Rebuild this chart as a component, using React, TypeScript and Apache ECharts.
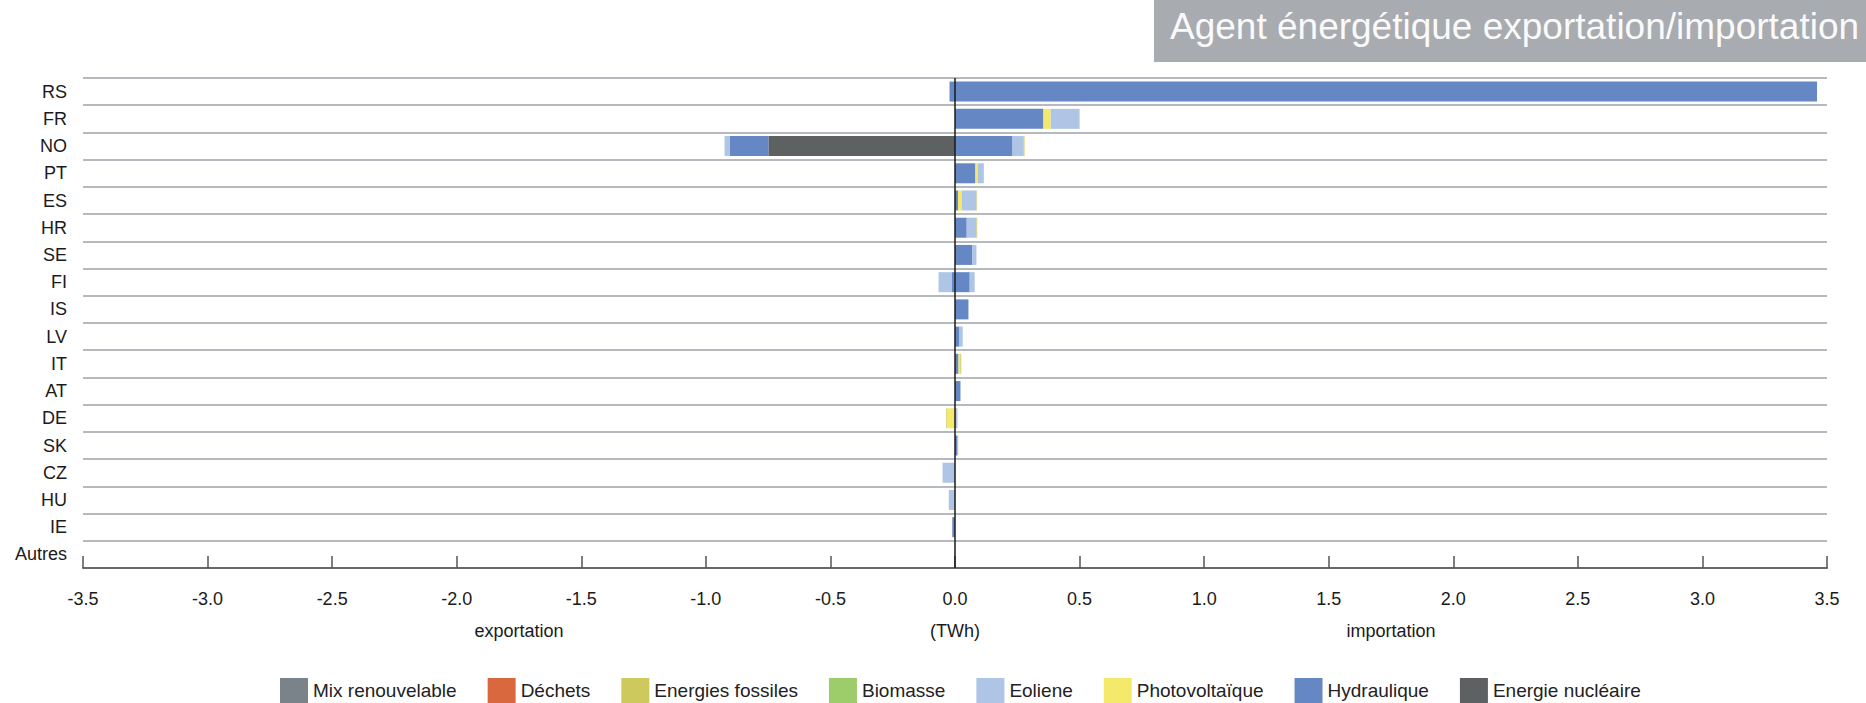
import React, { useEffect, useRef } from "react";
import * as echarts from "echarts";

const categories = ["RS", "FR", "NO", "PT", "ES", "HR", "SE", "FI", "IS", "LV", "IT", "AT", "DE", "SK", "CZ", "HU", "IE", "Autres"];

// Import (positive) values, TWh, per category order above
const impNucleaire = [0, 0, 0, 0, 0, 0, 0, 0, 0, 0, 0, 0, 0, 0, 0, 0, 0, 0];
const impHydro = [3.46, 0.355, 0.231, 0.082, 0.012, 0.047, 0.07, 0.059, 0.054, 0.018, 0.014, 0.022, 0, 0.01, 0, 0, 0, 0];
const impPV = [0, 0.029, 0, 0.009, 0.016, 0, 0, 0, 0, 0, 0.007, 0, 0, 0, 0, 0, 0, 0];
const impEolien = [0, 0.116, 0.045, 0.022, 0.058, 0.039, 0.016, 0.02, 0, 0.013, 0, 0, 0.01, 0, 0, 0, 0, 0];
const impBiomasse = [0, 0, 0, 0, 0, 0, 0, 0, 0, 0, 0, 0, 0, 0, 0, 0, 0, 0];
const impFossiles = [0, 0, 0.003, 0.003, 0.002, 0.003, 0, 0, 0, 0, 0.004, 0, 0, 0.003, 0, 0, 0, 0];
const impDechets = [0, 0, 0, 0, 0, 0, 0, 0, 0, 0, 0, 0, 0, 0, 0, 0, 0, 0];
const impMix = [0, 0, 0, 0, 0, 0, 0, 0, 0, 0, 0, 0, 0, 0, 0, 0, 0, 0];

// Export (negative) values, TWh
const expNucleaire = [0, 0, -0.749, 0, 0, 0, 0, 0, 0, 0, 0, 0, 0, 0, 0, 0, 0, 0];
const expHydro = [-0.022, 0, -0.156, 0, 0, 0, 0, -0.014, 0, 0, 0, 0, 0, 0, 0, 0, -0.011, 0];
const expPV = [0, 0, 0, 0, 0, 0, 0, 0, 0, 0, 0, 0, -0.032, 0, 0, 0, 0, 0];
const expEolien = [0, 0, -0.02, 0, 0, 0, 0, -0.052, 0, 0, 0, 0, 0, 0, -0.05, -0.025, 0, 0];
const expBiomasse = [0, 0, 0, 0, 0, 0, 0, 0, 0, 0, 0, 0, 0, 0, 0, 0, 0, 0];
const expFossiles = [0, 0, 0, 0, 0, 0, 0, 0, 0, 0, 0, 0, -0.003, 0, 0, 0, 0, 0];
const expDechets = [0, 0, 0, 0, 0, 0, 0, 0, 0, 0, 0, 0, 0, 0, 0, 0, 0, 0];
const expMix = [0, 0, 0, 0, 0, 0, 0, 0, 0, 0, 0, 0, 0, 0, 0, 0, 0, 0];

const legendOrder = ["Mix renouvelable", "Déchets", "Energies fossiles", "Biomasse", "Eoliene", "Photovoltaïque", "Hydraulique", "Energie nucléaire"];

// stacking order from zero outward
const types = [
  { name: "Energie nucléaire", color: "#5d6162", imp: impNucleaire, exp: expNucleaire },
  { name: "Hydraulique", color: "#6588c5", imp: impHydro, exp: expHydro },
  { name: "Photovoltaïque", color: "#f5e96b", imp: impPV, exp: expPV },
  { name: "Eoliene", color: "#aec5e6", imp: impEolien, exp: expEolien },
  { name: "Biomasse", color: "#9ccd6a", imp: impBiomasse, exp: expBiomasse },
  { name: "Energies fossiles", color: "#cec95c", imp: impFossiles, exp: expFossiles },
  { name: "Déchets", color: "#d9683f", imp: impDechets, exp: expDechets },
  { name: "Mix renouvelable", color: "#7b838a", imp: impMix, exp: expMix },
];

const axisNames: Record<string, string> = { "-1.75": "exportation", "0": "(TWh)", "1.75": "importation" };

const FONT = "'Liberation Sans', Arial, sans-serif";

export default function App() {
  const ref = useRef<HTMLDivElement>(null);
  useEffect(() => {
    if (!ref.current) return;
    const chart = echarts.init(ref.current, undefined, { renderer: "svg" });
    const series: any[] = [];
    types.forEach((t, i) => {
      series.push({
        name: t.name,
        type: "bar",
        stack: "imp",
        data: t.imp,
        itemStyle: { color: t.color },
        barWidth: 20,
        barGap: "-100%",
        xAxisIndex: 0,
        ...(i === 0
          ? {
              markLine: {
                silent: true,
                symbol: ["none", "none"],
                label: { show: false },
                z: 10,
                lineStyle: { color: "#1a1a1a", width: 1.5, type: "solid" },
                data: [{ xAxis: 0 }],
              },
            }
          : {}),
      });
      series.push({
        name: t.name,
        type: "bar",
        stack: "exp",
        data: t.exp,
        itemStyle: { color: t.color },
        barWidth: 20,
        barGap: "-100%",
        xAxisIndex: 0,
      });
    });
    chart.setOption({
      animation: false,
      textStyle: { fontFamily: FONT },
      grid: { left: 83, right: 39, top: 78, bottom: 135, containLabel: false },
      legend: {
        data: legendOrder,
        left: 280,
        top: 678,
        padding: 0,
        itemWidth: 28,
        itemHeight: 25,
        itemGap: 31,
        icon: "rect",
        textStyle: { fontSize: 19, color: "#222", fontFamily: FONT },
      },
      xAxis: [
        {
          type: "value",
          min: -3.5,
          max: 3.5,
          interval: 0.5,
          position: "bottom",
          axisLine: { show: true, onZero: false, lineStyle: { color: "#666a6e", width: 2 } },
          axisTick: { show: true, inside: true, length: 12, lineStyle: { color: "#555", width: 1.5 } },
          splitLine: { show: false },
          axisLabel: {
            fontSize: 18,
            color: "#1a1a1a",
            margin: 22,
            fontFamily: FONT,
            formatter: (v: number) => v.toFixed(1),
          },
        },
        {
          type: "value",
          min: -3.5,
          max: 3.5,
          interval: 1.75,
          position: "bottom",
          offset: 32,
          axisLine: { show: false },
          axisTick: { show: false },
          splitLine: { show: false },
          axisLabel: {
            fontSize: 18,
            color: "#1a1a1a",
            margin: 22,
            fontFamily: FONT,
            formatter: (v: number) => axisNames[String(v)] || "",
          },
        },
      ],
      yAxis: {
        type: "category",
        data: categories,
        inverse: true,
        axisLine: { show: false },
        axisTick: { show: false },
        splitLine: { show: true, lineStyle: { color: "#9ea3a8", width: 1.5 } },
        axisLabel: { fontSize: 18, color: "#1a1a1a", margin: 16, fontFamily: FONT },
      },
      graphic: [
        {
          type: "rect",
          left: 1154,
          top: 0,
          shape: { width: 712, height: 62 },
          style: { fill: "#a8abaf" },
          z: 1,
        },
        {
          type: "text",
          left: 1170,
          top: 8,
          z: 2,
          style: { text: "Agent énergétique exportation/importation", fill: "#fafafa", font: `37px ${FONT}` },
        },
      ],
      series,
    });
    return () => chart.dispose();
  }, []);
  return <div ref={ref} style={{ position: "absolute", left: 0, top: 0, width: 1866, height: 703 }} />;
}
